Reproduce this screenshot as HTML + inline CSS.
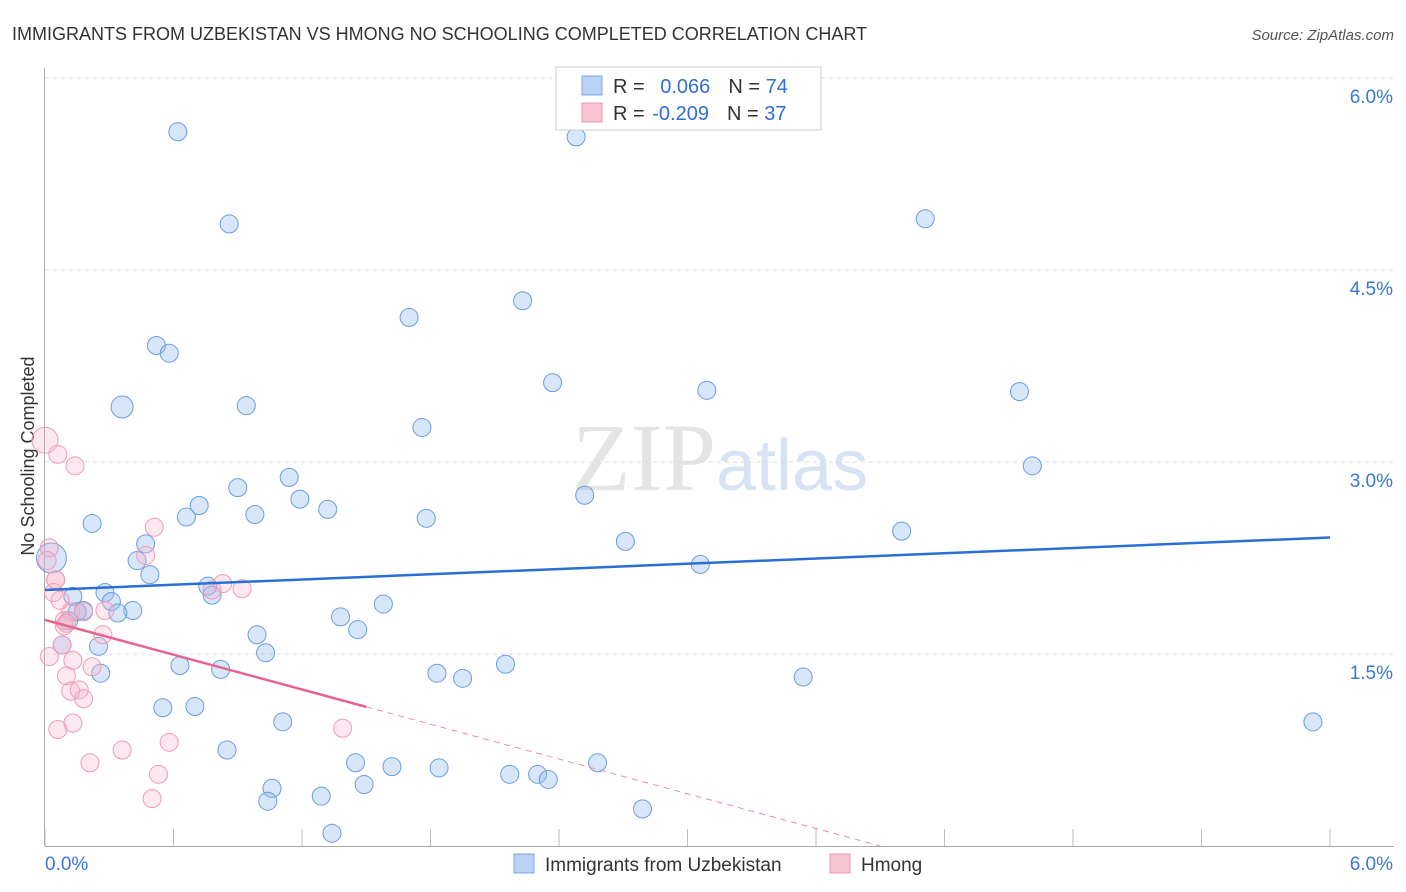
<!DOCTYPE html>
<html><head><meta charset="utf-8"><style>
body{margin:0;background:#fff;font-family:"Liberation Sans",sans-serif}
svg{display:block}
</style></head><body>
<svg id="c" width="1406" height="892">
<text x="12" y="40" font-size="18" fill="#333">IMMIGRANTS FROM UZBEKISTAN VS HMONG NO SCHOOLING COMPLETED CORRELATION CHART</text>
<text x="1394" y="40" font-size="15" fill="#555" font-style="italic" text-anchor="end">Source: ZipAtlas.com</text>
<text x="34" y="456" font-size="18" fill="#333" transform="rotate(-90 34 456)" text-anchor="middle">No Schooling Completed</text>
<text x="716" y="490" font-size="96" fill="#e4e4e4" font-family="Liberation Serif" text-anchor="end">ZIP</text>
<text x="716" y="490" font-size="72" fill="#d7e3f4">atlas</text>
<g id="grid"></g><g id="pts"></g><g id="lines"></g>
<g>
<rect x="556" y="67" width="265" height="63" fill="#fff" stroke="#ccc"/>
<rect x="582" y="76" width="20" height="19" fill="#b9d1f3" stroke="#7aa6e6"/>
<rect x="582" y="103" width="20" height="19" fill="#f9c4d2" stroke="#ec97b0"/>
<text x="613" y="93" font-size="20" fill="#333">R = <tspan fill="#2f6fd6" dx="10">0.066</tspan><tspan dx="18" fill="#333">N = </tspan><tspan fill="#2f6fd6">74</tspan></text>
<text x="613" y="120" font-size="20" fill="#333">R = <tspan fill="#2f6fd6" dx="2">-0.209</tspan><tspan dx="18" fill="#333">N = </tspan><tspan fill="#2f6fd6">37</tspan></text>
</g>
<g>
<rect x="514" y="854" width="20" height="19" fill="#b9d1f3" stroke="#7aa6e6"/>
<text x="545" y="871" font-size="19" fill="#333">Immigrants from Uzbekistan</text>
<rect x="830" y="854" width="20" height="19" fill="#f9c4d2" stroke="#ec97b0"/>
<text x="861" y="871" font-size="19" fill="#333">Hmong</text>
</g>
</svg>
<script>
const yTicks=[1.5,3.0,4.5,6.0];
const xTickLabels=["0.0%","6.0%"];
const blueX=[0.62,2.48,0.86,4.11,2.23,1.70,0.52,0.58,0.36,0.94,2.37,3.09,4.55,1.76,4.61,0.90,1.14,1.19,0.72,0.66,0.98,1.32,1.78,2.52,0.22,2.71,4.00,0.47,0.43,0.49,3.06,0.03,0.76,0.78,0.28,0.13,0.31,0.18,0.15,0.41,0.34,1.38,1.58,1.46,0.99,1.03,0.08,0.26,0.63,0.82,1.83,1.95,2.15,3.54,5.92,0.55,0.70,1.11,0.85,1.45,1.62,1.84,2.17,2.30,2.35,2.58,1.06,1.04,1.29,1.49,2.79,1.34,0.11,0.25];
const blueY=[5.58,5.54,4.86,4.90,4.26,4.13,3.91,3.85,3.43,3.44,3.62,3.56,3.55,3.27,2.97,2.80,2.88,2.71,2.66,2.57,2.59,2.63,2.56,2.74,2.52,2.38,2.46,2.36,2.23,2.12,2.20,2.25,2.03,1.96,1.98,1.95,1.91,1.84,1.83,1.84,1.82,1.79,1.89,1.69,1.65,1.51,1.57,1.35,1.41,1.38,1.35,1.31,1.42,1.32,0.97,1.08,1.09,0.97,0.75,0.65,0.62,0.61,0.56,0.56,0.52,0.65,0.45,0.35,0.39,0.48,0.29,0.10,1.76,1.56];
const blueR=[8,8,8,8,8,8,8,8,10,8,8,8,8,8,8,8,8,8,8,8,8,8,8,8,8,8,8,8,8,8,8,14,8,8,8,8,8,8,8,8,8,8,8,8,8,8,8,8,8,8,8,8,8,8,8,8,8,8,8,8,8,8,8,8,8,8,8,8,8,8,8,8,8,8];
const pinkX=[0.0,0.06,0.14,0.51,0.47,0.02,0.05,0.04,0.83,0.92,0.78,0.12,0.18,0.28,0.09,0.08,0.09,0.27,0.02,0.13,0.22,0.10,0.12,0.16,0.18,0.13,0.06,0.36,0.21,0.58,0.53,0.50,1.39,0.10,0.07,0.01,0.05];
const pinkY=[3.17,3.06,2.97,2.49,2.27,2.33,2.08,1.98,2.05,2.01,2.00,1.83,1.83,1.84,1.72,1.57,1.76,1.65,1.48,1.45,1.40,1.33,1.21,1.22,1.15,0.96,0.91,0.75,0.65,0.81,0.56,0.37,0.92,1.74,1.92,2.23,2.08];
const pinkR=[12,8,8,8,8,8,8,8,8,8,8,8,8,8,8,8,8,8,8,8,8,8,8,8,8,8,8,8,8,8,8,8,8,8,8,8,8];
const blueTrend=[2.0,2.41];
const pinkTrend=[1.766,-0.95];
const NS="http://www.w3.org/2000/svg";
const X=v=>45+v*214.17, Y=v=>846-v*128;
function mk(t,a,p){const e=document.createElementNS(NS,t);for(const k in a)e.setAttribute(k,a[k]);p.appendChild(e);return e;}
const grid=document.getElementById('grid');
yTicks.forEach((t,i)=>{
 const l=mk('line',{x1:45,x2:1394,y1:Y(t),y2:Y(t),stroke:'#ddd','stroke-dasharray':'4,4'},grid);
 
 
 const tx=mk('text',{x:1393,y:Y(t)+25,'font-size':19,fill:'#3a78d8','text-anchor':'end'},grid);
 tx.textContent=t.toFixed(1)+'%';
 
 
});
mk('line',{x1:44.5,x2:44.5,y1:68,y2:846,stroke:'#aaa'},grid);
mk('line',{x1:45,x2:1394,y1:846.5,y2:846.5,stroke:'#aaa'},grid);
for(let i=0;i<=10;i++){const xx=X(i*0.6);mk('line',{x1:xx,x2:xx,y1:829,y2:846,stroke:'#bbb'},grid);}
xTickLabels.forEach((s,i)=>{const tx=mk('text',{x:i?1393:45,y:870,'font-size':19,fill:'#3a78d8','text-anchor':i?'end':'start'},grid);tx.textContent=s;
 
 });
const pts=document.getElementById('pts');
blueX.forEach((x,i)=>{const c=mk('circle',{cx:X(x),cy:Y(blueY[i]),r:blueR[i]+1,fill:'rgba(150,188,238,0.38)',stroke:'#6a9de2','stroke-width':1},pts);
 
 });
pinkX.forEach((x,i)=>{const c=mk('circle',{cx:X(x),cy:Y(pinkY[i]),r:pinkR[i]+1,fill:'rgba(247,180,202,0.3)',stroke:'#f09ab6','stroke-width':1},pts);
 
 });
const lines=document.getElementById('lines');
const bl=mk('line',{x1:X(0),y1:Y(blueTrend[0]),x2:X(6),y2:Y(blueTrend[1]),stroke:'#2a6fd4','stroke-width':2.5},lines);


const pv=x=>pinkTrend[0]+(pinkTrend[1]-pinkTrend[0])*x/6;
const pl=mk('line',{x1:X(0),y1:Y(pv(0)),x2:X(1.5),y2:Y(pv(1.5)),stroke:'#e8628e','stroke-width':2.5},lines);


const xe=3.9;
const pd=mk('line',{x1:X(1.5),y1:Y(pv(1.5)),x2:X(xe),y2:Y(pv(xe)),stroke:'#ee8aab','stroke-width':1,'stroke-dasharray':'6,5'},lines);


</script>
</body></html>
